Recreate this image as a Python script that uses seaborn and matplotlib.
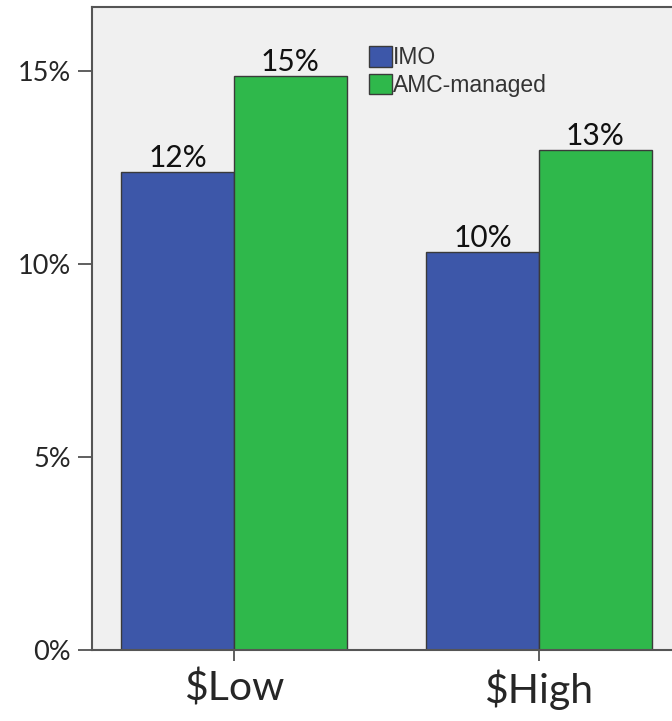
import pandas as pd
import seaborn as sns
import matplotlib.pyplot as plt
from matplotlib.ticker import FuncFormatter

# values (percent)
categories = ['$Low', '$High']
groups     = ['IMO', 'AMC-managed']
imo_vals   = [12.38, 10.31]
amc_vals   = [14.87, 12.95]
colors     = ['#3d57a9', '#2fb84b']

df = pd.DataFrame({
    'cat':   categories * 2,
    'group': [groups[0]] * 2 + [groups[1]] * 2,
    'value': imo_vals + amc_vals,
})

sns.set_style('white')
plt.rcParams['font.family'] = ['Lato', 'DejaVu Sans']

fig = plt.figure(figsize=(6.72, 7.21), dpi=100)
# axes runs past the right edge like the cropped original
ax = fig.add_axes([92 / 672, 1 - 650 / 721, (681 - 92) / 672, (650 - 7) / 721])
ax.set_facecolor('#f0f0f0')

sns.barplot(data=df, x='cat', y='value', hue='group', order=categories,
            hue_order=groups, palette=colors, width=0.74, saturation=1,
            edgecolor='#3a3a3a', linewidth=1.0, ax=ax)

for cont in ax.containers:
    ax.bar_label(cont, fmt='%.0f%%', padding=0, fontsize=21.5, color='#111111')

ax.set_xlim(-0.4656, 1.4656)
ax.set_ylim(0, 16.66)
ax.set_yticks([0, 5, 10, 15])
ax.yaxis.set_major_formatter(FuncFormatter(lambda v, _: f'{v:.0f}%'))
ax.tick_params(axis='y', labelsize=19.5, length=10, width=1.2, color='#444444', pad=5)
ax.tick_params(axis='x', labelsize=29.5, length=8, width=1.2, color='#444444', pad=6)
ax.tick_params(left=True, bottom=True)
ax.set_xlabel('')
ax.set_ylabel('')

for side in ['left', 'top', 'bottom']:
    ax.spines[side].set_visible(True)
    ax.spines[side].set_color('#555555')
    ax.spines[side].set_linewidth(1.5)
ax.spines['right'].set_visible(False)

leg = ax.legend(loc='upper left', bbox_to_anchor=((369 - 92) / 589, 1 - (46 - 7) / 643),
                frameon=False, handlelength=1.0, handleheight=1.0,
                handletextpad=0.05, labelspacing=0.2, borderaxespad=0, borderpad=0,
                prop={'family': 'Liberation Sans', 'size': 16.5})
for txt in leg.get_texts():
    txt.set_color('#333333')

fig.savefig('out.png', dpi=100)
